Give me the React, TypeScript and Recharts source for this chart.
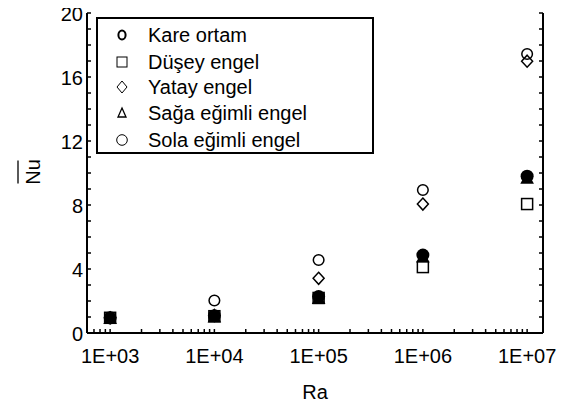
import { ScatterChart, Scatter, XAxis, YAxis } from 'recharts'

// Ra values and Nu (mean) per case
const RA = [1e3, 1e4, 1e5, 1e6, 1e7]
const KARE = [0.95, 1.08, 2.28, 4.87, 9.8]
const DUSEY = [0.95, 1.05, 2.19, 4.12, 8.06]
const YATAY = [0.95, 1.1, 3.42, 8.06, 16.99]
const SAGA = [0.95, 1.05, 2.2, 4.8, 9.72]
const SOLA = [0.95, 2.03, 4.56, 8.94, 17.44]

const NAMES = ['Kare ortam', 'Düşey engel', 'Yatay engel', 'Sağa eğimli engel', 'Sola eğimli engel']

const X_MAJOR = [1e3, 1e4, 1e5, 1e6, 1e7]
const X_LABELS = ['1E+03', '1E+04', '1E+05', '1E+06', '1E+07']
const Y_LABELED = [0, 4, 8, 12, 16, 20]

const FONT = "'Liberation Sans', Arial, sans-serif"
const FS = 20

const xMinor: number[] = []
for (let d = 100; d <= 1e6; d *= 10) {
  for (let m = 1; m <= 9; m++) {
    const v = m * d
    if (v >= 600 && v <= 1e7) xMinor.push(v)
  }
}
xMinor.push(1e7)
const yTicks = Array.from({ length: 21 }, (_, i) => i)
const topTicks = Array.from({ length: 17 }, (_, i) => i)

const toPoints = (vals: number[]) => RA.map((ra, i) => ({ ra, nu: vals[i] }))

const TICK_LEN = 4

function BottomTick(props: any) {
  const { x, y, payload } = props
  const idx = X_MAJOR.indexOf(payload.value)
  return (
    <g>
      <line x1={x} y1={y} x2={x} y2={y - TICK_LEN} stroke="#000" strokeWidth={1.5} />
      {idx >= 0 && (
        <text x={x} y={y + 30} textAnchor="middle" fontSize={FS} fontFamily={FONT} fill="#000">
          {X_LABELS[idx]}
        </text>
      )}
    </g>
  )
}

function TopTick(props: any) {
  const { x, y } = props
  return <line x1={x} y1={y} x2={x} y2={y + TICK_LEN - 1} stroke="#000" strokeWidth={1.5} />
}

function LeftTick(props: any) {
  const { x, y, payload } = props
  const labeled = Y_LABELED.includes(payload.value)
  return (
    <g>
      <line x1={x} y1={y} x2={x + TICK_LEN} y2={y} stroke="#000" strokeWidth={1.5} />
      {labeled && (
        <text x={x - 4} y={y + 8} textAnchor="end" fontSize={FS} fontFamily={FONT} fill="#000">
          {payload.value}
        </text>
      )}
    </g>
  )
}

function RightTick(props: any) {
  const { x, y } = props
  return <line x1={x} y1={y} x2={x - TICK_LEN} y2={y} stroke="#000" strokeWidth={1.5} />
}

function NuLabel(props: any) {
  const vb = props.viewBox || { x: 27, y: 13, width: 60, height: 320 }
  const cx = vb.x + 13
  const cy = vb.y + vb.height / 2 - 1
  return (
    <g transform={`rotate(-90, ${cx}, ${cy})`}>
      <text x={cx} y={cy} textAnchor="middle" fontSize={FS} fontFamily={FONT} fill="#000">
        Nu
      </text>
      <line x1={cx - 11.5} y1={cy - 22} x2={cx + 11.5} y2={cy - 22} stroke="#000" strokeWidth={1.3} />
    </g>
  )
}

// markers
const openCircle = (p: any) => (
  <circle cx={p.cx} cy={p.cy} r={5.3} fill="none" stroke="#000" strokeWidth={1.5} />
)
const openDiamond = (p: any) => (
  <path
    d={`M${p.cx},${p.cy - 6}L${p.cx + 5.5},${p.cy}L${p.cx},${p.cy + 6}L${p.cx - 5.5},${p.cy}Z`}
    fill="none"
    stroke="#000"
    strokeWidth={1.5}
  />
)
const filledCircle = (p: any) => <circle cx={p.cx} cy={p.cy} r={6.5} fill="#000" />
const filledTriangle = (p: any) => (
  <path d={`M${p.cx},${p.cy - 6.5}L${p.cx + 6.8},${p.cy + 6.3}L${p.cx - 6.8},${p.cy + 6.3}Z`} fill="#000" />
)
const openSquare = (p: any) => (
  <rect x={p.cx - 5.5} y={p.cy - 5.5} width={11} height={11} fill="none" stroke="#000" strokeWidth={1.5} />
)

function LegendBox() {
  const rows = [19, 46, 71, 97, 124]
  const mx = 27
  const icons = [
    (cy: number) => <ellipse cx={mx} cy={cy} rx={3.6} ry={4.6} fill="none" stroke="#000" strokeWidth={2} />,
    (cy: number) => <rect x={mx - 5} y={cy - 5} width={10} height={10} fill="none" stroke="#000" strokeWidth={1} />,
    (cy: number) => (
      <path d={`M${mx},${cy - 6}L${mx + 5},${cy}L${mx},${cy + 6}L${mx - 5},${cy}Z`} fill="none" stroke="#000" strokeWidth={1} />
    ),
    (cy: number) => (
      <path d={`M${mx},${cy - 5}L${mx + 4},${cy + 4}L${mx - 4},${cy + 4}Z`} fill="none" stroke="#000" strokeWidth={1.3} />
    ),
    (cy: number) => <circle cx={mx} cy={cy} r={5.3} fill="none" stroke="#000" strokeWidth={1} />,
  ]
  return (
    <svg width={280} height={140} style={{ position: 'absolute', left: 95, top: 16 }}>
      <rect x={2} y={2} width={276} height={135} fill="#fff" stroke="#000" strokeWidth={2} />
      {NAMES.map((n, i) => (
        <g key={n}>
          {icons[i](rows[i])}
          <text x={53} y={rows[i] + 7} fontSize={FS} fontFamily={FONT} fill="#000">
            {n}
          </text>
        </g>
      ))}
    </svg>
  )
}

export default function App() {
  const axisLine = { stroke: '#000', strokeWidth: 2 }
  return (
    <div style={{ position: 'relative', left: -8, top: -8, width: 570, height: 406, background: '#fff' }}>
      <ScatterChart width={570} height={406} margin={{ top: 13, right: 19, bottom: 0, left: 27 }}>
        <XAxis
          xAxisId="b"
          dataKey="ra"
          type="number"
          scale="log"
          domain={[600, 14200000]}
          allowDataOverflow
          ticks={xMinor}
          interval={0}
          tick={<BottomTick />}
          tickLine={false}
          tickSize={0}
          tickMargin={0}
          axisLine={axisLine}
          height={73}
          label={{ value: 'Ra', position: 'insideBottom', offset: 7, fontSize: FS, fontFamily: FONT, fill: '#000' }}
        />
        <XAxis
          xAxisId="t"
          orientation="top"
          type="number"
          domain={[0, 16]}
          allowDataOverflow
          ticks={topTicks}
          interval={0}
          tick={<TopTick />}
          tickLine={false}
          tickSize={0}
          tickMargin={0}
          axisLine={axisLine}
          height={0}
        />
        <YAxis
          yAxisId="l"
          dataKey="nu"
          type="number"
          domain={[0, 20]}
          allowDataOverflow
          ticks={yTicks}
          interval={0}
          tick={<LeftTick />}
          tickLine={false}
          tickSize={0}
          tickMargin={0}
          axisLine={axisLine}
          width={60}
          label={{ content: <NuLabel /> }}
        />
        <YAxis
          yAxisId="r"
          orientation="right"
          type="number"
          domain={[0, 20]}
          allowDataOverflow
          ticks={yTicks}
          interval={0}
          tick={<RightTick />}
          tickLine={false}
          tickSize={0}
          tickMargin={0}
          axisLine={axisLine}
          width={8}
        />
        <Scatter xAxisId="b" yAxisId="l" name={NAMES[4]} data={toPoints(SOLA)} shape={openCircle} isAnimationActive={false} />
        <Scatter xAxisId="b" yAxisId="l" name={NAMES[2]} data={toPoints(YATAY)} shape={openDiamond} isAnimationActive={false} />
        <Scatter xAxisId="b" yAxisId="l" name={NAMES[0]} data={toPoints(KARE)} shape={filledCircle} isAnimationActive={false} />
        <Scatter xAxisId="b" yAxisId="l" name={NAMES[3]} data={toPoints(SAGA)} shape={filledTriangle} isAnimationActive={false} />
        <Scatter xAxisId="b" yAxisId="l" name={NAMES[1]} data={toPoints(DUSEY)} shape={openSquare} isAnimationActive={false} />
      </ScatterChart>
      <LegendBox />
    </div>
  )
}
